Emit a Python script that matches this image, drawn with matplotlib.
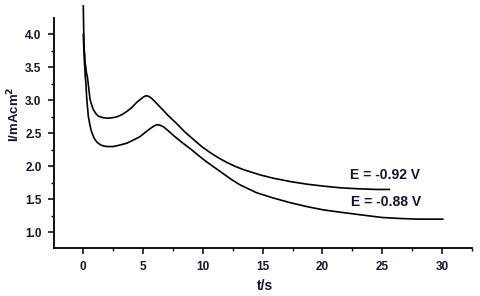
import matplotlib

matplotlib.use("Agg")

import matplotlib.pyplot as plt
from matplotlib.ticker import MultipleLocator

# E = -0.92 V transient
t_092 = [0, 0.04, 0.08, 0.12, 0.16, 0.2, 0.26, 0.34, 0.42, 0.56, 0.7, 0.84, 1.05,
         1.26, 1.6, 1.96, 2.4, 2.8, 3.2, 3.63, 4.05, 4.47, 4.75, 5.02, 5.25, 5.48,
         5.72, 6.05, 6.42, 7.1, 7.8, 8.5, 9.2, 9.9, 10.6, 11.3, 12.0, 12.7, 13.4,
         14.1, 14.8, 15.9, 17.3, 18.7, 20.1, 21.5, 23.0, 24.5, 25.6]
i_092 = [4.43, 4.0, 3.75, 3.7, 3.55, 3.52, 3.42, 3.36, 3.24, 3.02, 2.93, 2.86, 2.80,
         2.76, 2.74, 2.73, 2.735, 2.75, 2.78, 2.83, 2.89, 2.97, 3.01, 3.05, 3.07,
         3.06, 3.03, 2.97, 2.90, 2.77, 2.65, 2.52, 2.41, 2.30, 2.21, 2.13, 2.06,
         2.00, 1.95, 1.91, 1.87, 1.82, 1.77, 1.73, 1.70, 1.675, 1.66, 1.65, 1.65]

# E = -0.88 V transient
t_088 = [0, 0.04, 0.08, 0.12, 0.16, 0.22, 0.28, 0.35, 0.42, 0.56, 0.7, 0.9, 1.12,
         1.4, 1.67, 2.0, 2.5, 3.0, 3.63, 4.2, 4.74, 5.15, 5.58, 5.9, 6.14, 6.4, 6.7,
         7.1, 7.53, 8.2, 8.93, 9.6, 10.3, 11.0, 11.7, 12.4, 13.1, 13.8, 14.5, 15.2,
         15.9, 17.3, 18.7, 20.1, 21.5, 23.0, 25.0, 26.5, 28.0, 30.07]
i_088 = [4.0, 3.8, 3.62, 3.5, 3.38, 3.25, 3.05, 2.9, 2.76, 2.62, 2.52, 2.43, 2.37,
         2.33, 2.31, 2.30, 2.30, 2.32, 2.35, 2.40, 2.45, 2.51, 2.57, 2.61, 2.63,
         2.625, 2.60, 2.54, 2.47, 2.37, 2.27, 2.17, 2.07, 1.98, 1.89, 1.80, 1.72,
         1.66, 1.60, 1.56, 1.52, 1.45, 1.39, 1.34, 1.305, 1.27, 1.225, 1.21, 1.20,
         1.20]

labels = ["E = -0.92 V", "E = -0.88 V"]
label_pos = [(25.2, 1.87), (25.3, 1.46)]

plt.rcParams["font.family"] = ["Liberation Sans", "DejaVu Sans"]
text_color = "#141432"

fig = plt.figure(figsize=(4.8, 2.96), dpi=100)
ax = fig.add_axes([0.1125, 0.162, 0.8705, 0.777])

ax.plot(t_092, i_092, color="black", lw=1.2, clip_on=False)
ax.plot(t_088, i_088, color="black", lw=1.2, clip_on=False)

for text, (x, y) in zip(labels, label_pos):
    ax.text(x, y, text, ha="center", va="center", fontsize=10,
            fontweight="bold", color=text_color)

ax.set_xlim(-2.45, 32.5)
ax.set_ylim(0.762, 4.247)
ax.xaxis.set_major_locator(MultipleLocator(5))
ax.xaxis.set_minor_locator(MultipleLocator(2.5))
ax.yaxis.set_minor_locator(MultipleLocator(0.25))
ax.set_yticks([1.0, 1.5, 2.0, 2.5, 3.0, 3.5, 4.0])
ax.yaxis.set_major_formatter(plt.FormatStrFormatter("%.1f"))

for side in ("top", "right"):
    ax.spines[side].set_visible(False)
for side in ("left", "bottom"):
    ax.spines[side].set_linewidth(1.3)

ax.tick_params(which="major", length=4, width=1.1, direction="out",
               labelsize=8.5, labelcolor=text_color, pad=5)
ax.tick_params(which="minor", length=2.5, width=1.0, direction="out")
for lab in ax.get_xticklabels() + ax.get_yticklabels():
    lab.set_fontweight("bold")

ax.set_xlabel("t/s", fontsize=10, fontweight="bold", color=text_color)
ax.set_ylabel("I/mAcm$^\\mathbf{2}$", fontsize=9.5, fontweight="bold",
              color=text_color)
ax.xaxis.set_label_coords(0.505, -0.135)
ax.yaxis.set_label_coords(-0.077, 0.58)

fig.savefig("out.png", dpi=100)
